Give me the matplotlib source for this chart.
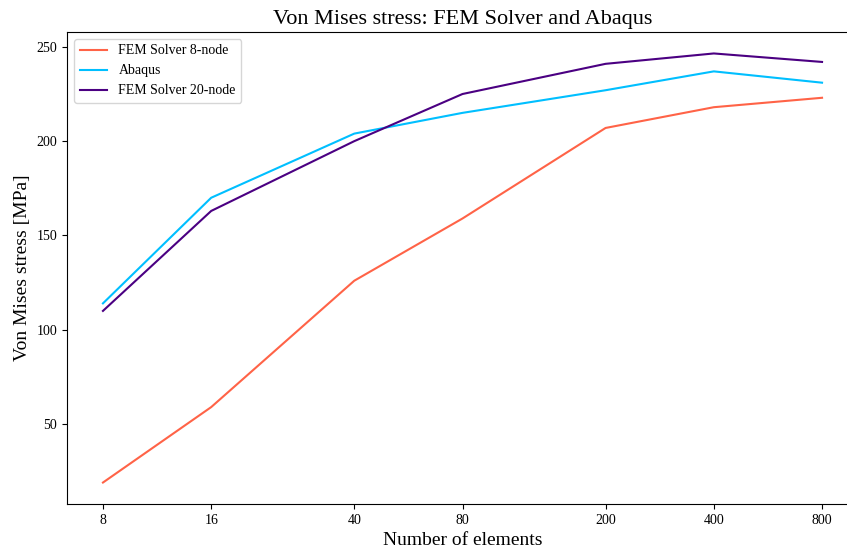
import matplotlib
matplotlib.use("Agg")
import matplotlib.pyplot as plt
import numpy as np

plt.rcParams['font.family'] = ['Liberation Serif', 'DejaVu Serif']

# number of elements
elements = [8, 16, 40, 80, 200, 400, 800]
# von mises stress [MPa]
fem_8node = [19, 59, 126, 159, 207, 218, 223]
abaqus = [114, 170, 204, 215, 227, 237, 231]
fem_20node = [110, 163, 200, 225, 241, 246.5, 242]

fig = plt.figure(figsize=(8.47, 5.51), dpi=100)
ax = fig.add_axes([67 / 847, 1 - 504 / 551, (858 - 67) / 847, (504 - 32) / 551])

ax.plot(elements, fem_8node, color='tomato', lw=1.5, label='FEM Solver 8-node')
ax.plot(elements, abaqus, color='deepskyblue', lw=1.5, label='Abaqus')
ax.plot(elements, fem_20node, color='indigo', lw=1.5, label='FEM Solver 20-node')

ax.set_xscale('log')
ax.set_xticks(elements)
ax.set_xticklabels([str(e) for e in elements])
ax.xaxis.set_minor_locator(matplotlib.ticker.NullLocator())
ax.set_yticks([50, 100, 150, 200, 250])

ax.set_title('Von Mises stress: FEM Solver and Abaqus', fontsize=16)
ax.set_xlabel('Number of elements', fontsize=14)
ax.set_ylabel('Von Mises stress [MPa]', fontsize=14)
ax.tick_params(labelsize=10)
ax.legend(loc='upper left', fontsize=10)

fig.savefig('out.png', dpi=100)
